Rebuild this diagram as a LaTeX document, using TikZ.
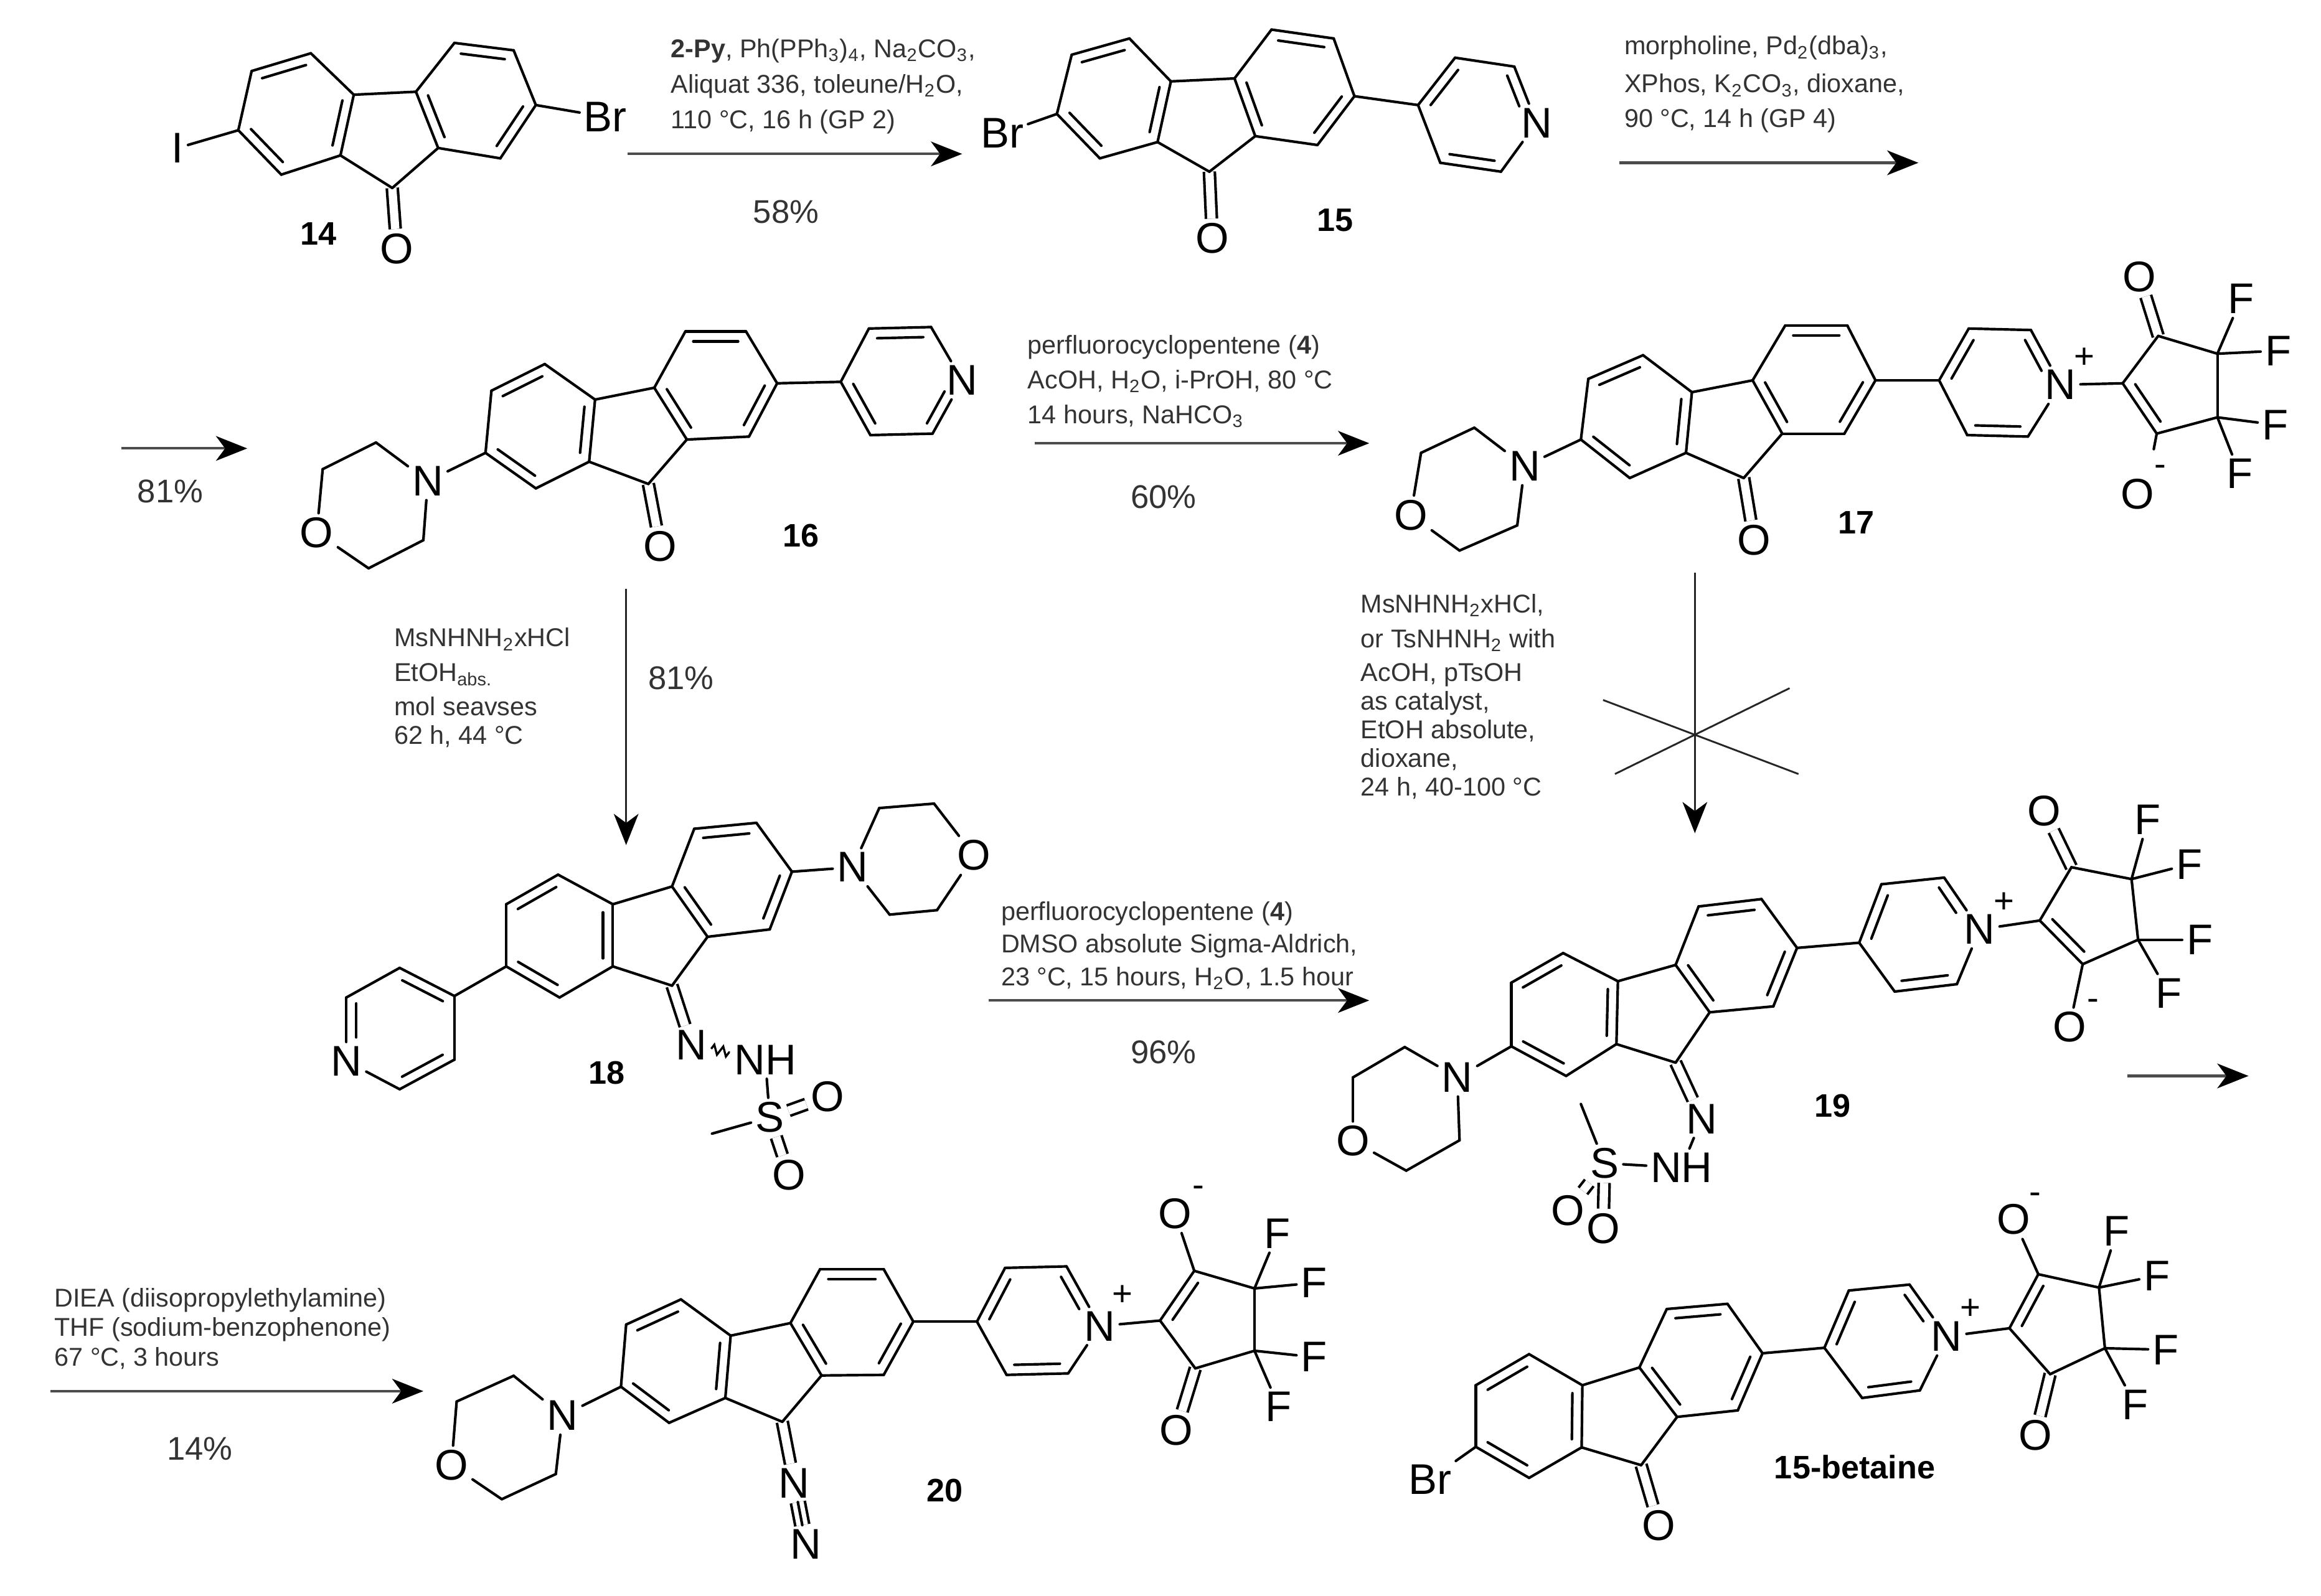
\documentclass[tikz,border=0pt]{standalone}
\usepackage{fontspec}
\setmainfont{Liberation Sans}
\usepackage{tikz}
\usetikzlibrary{arrows.meta,calc,decorations.pathmorphing}
\newcommand{\ringatoms}[2]{\foreach \n/\x/\y in {#2} \coordinate (c#1\n) at (\x,\y);}
\newcommand{\atomlabels}[2]{\foreach \n/\x/\y/\lab in {#2} \node[atom] (c#1\n) at (\x,\y) {\lab};}
\newcommand{\singlebonds}[2]{\foreach \a/\b in {#2} \draw[bond] (c#1\a) -- (c#1\b);}
\newcommand{\doublebonds}[2]{\foreach \a/\b in {#2} \draw[dblbond] (c#1\a) -- (c#1\b);}
\newcommand{\innerbonds}[2]{\foreach \a/\b in {#2} \draw[bond] ($(c#1\a)!.13!(c#1\b)!3.8pt!90:(c#1\b)$) -- ($(c#1\b)!.13!(c#1\a)!3.8pt!-90:(c#1\a)$);}
\newcommand{\fluorene}[1]{\singlebonds{#1}{a/b,b/c,c/d,d/e,e/f,f/a,d/g,g/h,h/i,i/j,j/k,k/l,l/g,l/m,m/e}\innerbonds{#1}{a/f,e/d,c/b,g/l,k/j,i/h}}
\newcommand{\pyridine}[1]{\singlebonds{#1}{j/p,p/q,q/r,r/N,N/s,s/t,t/p}}
\newcommand{\morpholine}[1]{\singlebonds{#1}{mN/ma,ma/mb,mb/mO,mO/mc,mc/md,md/mN}}
\newcommand{\cyclopentene}[1]{\singlebonds{#1}{N/n,n/v,v/w,w/x,x/y,y/n,w/F1,w/F2,x/F3,x/F4}}
\begin{document}
\begin{tikzpicture}[
        x=0.02cm, y=-0.02cm,
        atom/.style={inner sep=1.5pt, font=\fontsize{16.5pt}{18pt}\selectfont},
        charge/.style={inner sep=0pt, font=\fontsize{13.5pt}{15pt}\selectfont},
        bond/.style={line width=1pt, line cap=round},
        dblbond/.style={line width=1pt, double, double distance=3.2pt},
        rxn/.style={line width=1pt, draw=black!70, -{Stealth[length=12pt,width=9.5pt,inset=3.5pt,fill=black,color=black]}},
        reagent/.style={anchor=north west, inner sep=0pt, align=left, text=black!80, font=\fontsize{9.9pt}{#1}\selectfont},
        yieldtext/.style={inner sep=0pt, text=black!80, font=\fontsize{12.6pt}{14pt}\selectfont},
        cpdlabel/.style={inner sep=0pt, font=\bfseries\fontsize{12.5pt}{14pt}\selectfont},
    ]
    \useasboundingbox (0,0) rectangle (1568,1078);

    \ringatoms{14}{a/161/88,b/170/48,c/210/36,d/239/64,e/230/105,f/190/118,g/281/62,h/307/29,i/347/34,j/362/71,k/338/107,l/296/100,m/265/127}
    \atomlabels{14}{I/120/100/I,Br/409/79/Br,O/268/168/O}
    \doublebonds{14}{m/O}
    \fluorene{14}
    \singlebonds{14}{a/I,j/Br}
    \node[cpdlabel] (lab14) at (215,158) {14};

    \ringatoms{15}{a/714/77,b/724/37,c/763/26,d/791/55,e/782/96,f/743/107,g/834/53,h/859/20,i/901/26,j/915/65,k/890/98,l/848/92,m/817/116,p/958/71,q/983/39,r/1023/45,s/1014/116,t/973/110,u/1034/73}
    \atomlabels{15}{N/1038/83/N,Br/677/90/Br,O/819/161/O}
    \doublebonds{15}{m/O}
    \fluorene{15}
    \pyridine{15}
    \singlebonds{15}{a/Br}
    \innerbonds{15}{q/p,u/r,t/s}
    \node[cpdlabel] (lab15) at (902,149) {15};

    \ringatoms{16}{a/328/306,b/332/264,c/368/246,d/402/270,e/398/312,f/362/330,g/442/262,h/463/224,i/504/224,j/525/259,k/506/295,l/464/297,m/438/327,p/568/258,q/587/222,r/629/221,s/630/293,t/588/294,u/646/264,ma/254/299,mb/218/317,mc/249/384,md/286/365}
    \atomlabels{16}{N/650/257/N,O/446/369/O,mN/289/325/N,mO/214/360/O}
    \doublebonds{16}{m/O}
    \fluorene{16}
    \pyridine{16}
    \morpholine{16}
    \singlebonds{16}{a/mN}
    \innerbonds{16}{r/q,p/t,s/u}
    \node[cpdlabel] (lab16) at (541,362) {16};

    \ringatoms{17}{a/1068/297,b/1073/256,c/1110/240,d/1143/265,e/1139/306,f/1101/323,g/1184/257,h/1206/220,i/1248/220,j/1267/257,k/1246/293,l/1204/293,m/1178/323,p/1310/257,q/1330/222,r/1372/223,s/1370/295,t/1329/294,u/1387/251,ma/996/289,mb/960/306,mc/986/372,md/1025/355,n/1434/259,v/1458/227,w/1498/239,x/1498/282,y/1457/293,z/1455/303.5}
    \atomlabels{17}{N/1392/260/N,O/1185/365/O,mN/1030/315/N,mO/953/348/O,Oc/1445.5/187/O,Om/1444/334/O,F1/1514/202/F,F2/1539/237/F,F3/1537/287/F,F4/1513/320/F}
    \doublebonds{17}{m/O,v/Oc}
    \fluorene{17}
    \pyridine{17}
    \morpholine{17}
    \cyclopentene{17}
    \singlebonds{17}{a/mN,y/z}
    \innerbonds{17}{q/p,u/r,t/s,n/y}
    \node[charge] (plus17) at (1408,242) {+};
    \node[charge] (minus17) at (1459.5,318) {-};
    \node[cpdlabel] (lab17) at (1254,353) {17};

    \ringatoms{18}{a/342/653,b/342/611,c/377/591,d/414/611,e/414/653,f/378/674,g/454/599,h/469/560,i/511/556,j/535/589,k/520/628,l/478/633,m/454/666,ma/594/546,mb/631/543,mc/633/615,md/601/618,me/481/766,p/307/673,q/270/654,r/234/674,s/270/736,t/307/716,u/234/705}
    \atomlabels{18}{N/234/717/N,mN/576/586/N,mO/658/578/O,Na/467/706/N,NH/517/716/NH,S/520/755/S,Oa/559/741/O,Ob/533/794/O}
    \doublebonds{18}{m/Na,S/Oa,S/Ob}
    \fluorene{18}
    \morpholine{18}
    \singlebonds{18}{a/p,p/q,q/r,r/N,N/s,s/t,t/p,j/mN,NH/S,me/S}
    \innerbonds{18}{p/q,r/u,s/t}
    \draw[line width=0.8pt, decorate, decoration={zigzag, amplitude=1.8pt, segment length=3.5pt}] (c18Na) -- (c18NH);
    \node[cpdlabel] (lab18) at (410,725) {18};

    \ringatoms{19}{a/1021/707,b/1021/664,c/1056/644,d/1093/663,e/1092/705.5,f/1058/727,g/1132/652,h/1147.5/612.5,i/1190/607.5,j/1214/640.5,k/1198/680,l/1155/684,m/1132/718,p/1256/637,q/1271/597.5,r/1313.4/593,s/1322/665,t/1280/670,u/1329/616,ma/949/707.5,mb/914/728,mc/950/791,md/986/770.5,me/1068/746,n/1378/622,v/1399.4/586,w/1440/594,x/1444.4/635,y/1407/651.5}
    \atomlabels{19}{N/1337.4/628/N,mN/984.5/728/N,mO/914/771/O,Na/1149.6/756/N,NH/1136/789/NH,S/1084/786/S,Oa/1059/818/O,Ob/1083/830/O,Oc/1381/548/O,Om/1398/694/O,F1/1451/554/F,F2/1479/584/F,F3/1486/635/F,F4/1465/671/F}
    \doublebonds{19}{m/Na,S/Oa,S/Ob,v/Oc}
    \fluorene{19}
    \pyridine{19}
    \morpholine{19}
    \cyclopentene{19}
    \singlebonds{19}{a/mN,Na/NH,NH/S,me/S,y/Om}
    \innerbonds{19}{q/p,u/r,t/s,n/y}
    \node[charge] (plus19) at (1354,610) {+};
    \node[charge] (minus19) at (1414,679) {-};
    \node[cpdlabel] (lab19) at (1238,747) {19};

    \ringatoms{20}{a/419.5/937,b/423/895,c/460/878,d/493.6/902.5,e/490/944.6,f/452/961.4,g/534/894,h/554/857.6,i/597/857.6,j/617/893,k/597/929,l/555/929.4,m/528.5/960.7,p/660/893,q/679/856.7,r/720.5/855.7,s/721.6/928,t/680/929,u/737/885,ma/347/929.6,mb/308.5/947,mc/339/1013,md/375.5/996,n/783.7/892.3,v/806.8/858.7,w/847.5/870.6,x/847.5/912.7,y/807.5/924.6}
    \atomlabels{20}{N/743/896/N,mN/380/956.5/N,mO/305/990/O,Na/536.5/1002/N,Nb/544.5/1043.5/N,Oc/794.6/966.6/O,Om/793.8/820/O,F1/863/833.5/F,F2/887.7/866.8/F,F3/887.7/917/F,F4/863.9/950.5/F}
    \doublebonds{20}{m/Na,y/Oc}
    \draw[dblbond, double distance=4.4pt] (c20Na) -- (c20Nb);
    \fluorene{20}
    \pyridine{20}
    \morpholine{20}
    \cyclopentene{20}
    \singlebonds{20}{a/mN,Na/Nb,v/Om}
    \innerbonds{20}{q/p,u/r,t/s,v/n}
    \node[charge] (plus20) at (758.4,875.2) {+};
    \node[charge] (minus20) at (809.6,805) {-};
    \node[cpdlabel] (lab20) at (638.4,1007) {20};

    \ringatoms{15b}{a/997/977.6,b/997/936,c/1033/915,d/1069/936,e/1068.5/978,f/1033/998.6,g/1107.5/924,h/1126/884.5,i/1167/881,j/1190.7/914.4,k/1174/953,l/1133/957.4,m/1108.7/990,p/1232.5/910.7,q/1249/872,r/1290/868,s/1297/939.5,t/1258/944.6,u/1307/892,n/1357.5/897.5,v/1377/861,w/1418/870,x/1422/911,y/1385/928.5}
    \atomlabels{15b}{N/1315/903/N,Br/966/999.5/Br,O/1120.6/1030.7/O,Oc/1375/970/O,Om/1360.4/824/O,F1/1430/832/F,F2/1457/862/F,F3/1463/912/F,F4/1442.4/949/F}
    \doublebonds{15b}{m/O,y/Oc}
    \fluorene{15b}
    \pyridine{15b}
    \cyclopentene{15b}
    \singlebonds{15b}{a/Br,v/Om}
    \innerbonds{15b}{q/p,u/r,t/s,v/n}
    \node[charge] (plus15b) at (1331,884.5) {+};
    \node[charge] (minus15b) at (1375,809.6) {-};
    \node[cpdlabel] (lab15b) at (1253,991.3) {15-betaine};

    \foreach \n/\xa/\ya/\xb/\yb in {a/424/104/650/104,b/1094/110/1296/110,c/82/303/167/303,d/699/299.5/925/299.5,e/668/676/925/676,f/1437/727/1519/727,g/34/940/286/940} {
        \coordinate (s\n) at (\xa,\ya);
        \coordinate (e\n) at (\xb,\yb);
        \draw[rxn] (s\n) -- (e\n);
    }
    \foreach \n/\xa/\ya/\xb/\yb in {h/423/398/423/571,i/1145/387/1145/563} {
        \coordinate (s\n) at (\xa,\ya);
        \coordinate (e\n) at (\xb,\yb);
        \draw[rxn, line width=0.7pt, draw=black!85] (s\n) -- (e\n);
    }
    \foreach \n/\xa/\ya/\xb/\yb in {j/1083/473/1215/523,k/1209/465/1091/523} {
        \coordinate (s\n) at (\xa,\ya);
        \coordinate (e\n) at (\xb,\yb);
        \draw[line width=0.7pt, black!85] (s\n) -- (e\n);
    }

    \node[reagent=13.6pt] (reaga) at (453,26) {\textbf{2-Py}, Ph(PPh\textsubscript{3})\textsubscript{4}, Na\textsubscript{2}CO\textsubscript{3},\\Aliquat 336, toleune/H\textsubscript{2}O,\\110 °C, 16 h (GP 2)};
    \node[reagent=13.4pt] (reagb) at (1097,24) {morpholine, Pd\textsubscript{2}(dba)\textsubscript{3},\\[1.2pt]XPhos, K\textsubscript{2}CO\textsubscript{3}, dioxane,\\90 °C, 14 h (GP 4)};
    \node[reagent=13.4pt] (reagc) at (694,226) {perfluorocyclopentene (\textbf{4})\\AcOH, H\textsubscript{2}O, i-PrOH, 80 °C\\14 hours, NaHCO\textsubscript{3}};
    \node[reagent=11pt] (reagd) at (266,424) {MsNHNH\textsubscript{2}xHCl\\[2.4pt]EtOH\textsubscript{abs.}\\[2pt]mol seavses\\62 h, 44 °C};
    \node[reagent=11pt] (reage) at (919,401) {MsNHNH\textsubscript{2}xHCl,\\[2.4pt]or TsNHNH\textsubscript{2} with\\[2pt]AcOH, pTsOH\\as catalyst,\\EtOH absolute,\\dioxane,\\24 h, 40-100 °C};
    \node[reagent=12.5pt] (reagf) at (676,609) {perfluorocyclopentene (\textbf{4})\\DMSO absolute Sigma-Aldrich,\\23 °C, 15 hours, H\textsubscript{2}O, 1.5 hour};
    \node[reagent=11.4pt] (reagg) at (36.5,870) {DIEA (diisopropylethylamine)\\THF (sodium-benzophenone)\\67 °C, 3 hours};

    \node[yieldtext] (yielda) at (531,143) {58\%};
    \node[yieldtext] (yieldb) at (115,332) {81\%};
    \node[yieldtext] (yieldc) at (786,336) {60\%};
    \node[yieldtext] (yieldd) at (460,458) {81\%};
    \node[yieldtext] (yielde) at (786,711) {96\%};
    \node[yieldtext] (yieldf) at (135,979) {14\%};
\end{tikzpicture}
\end{document}
